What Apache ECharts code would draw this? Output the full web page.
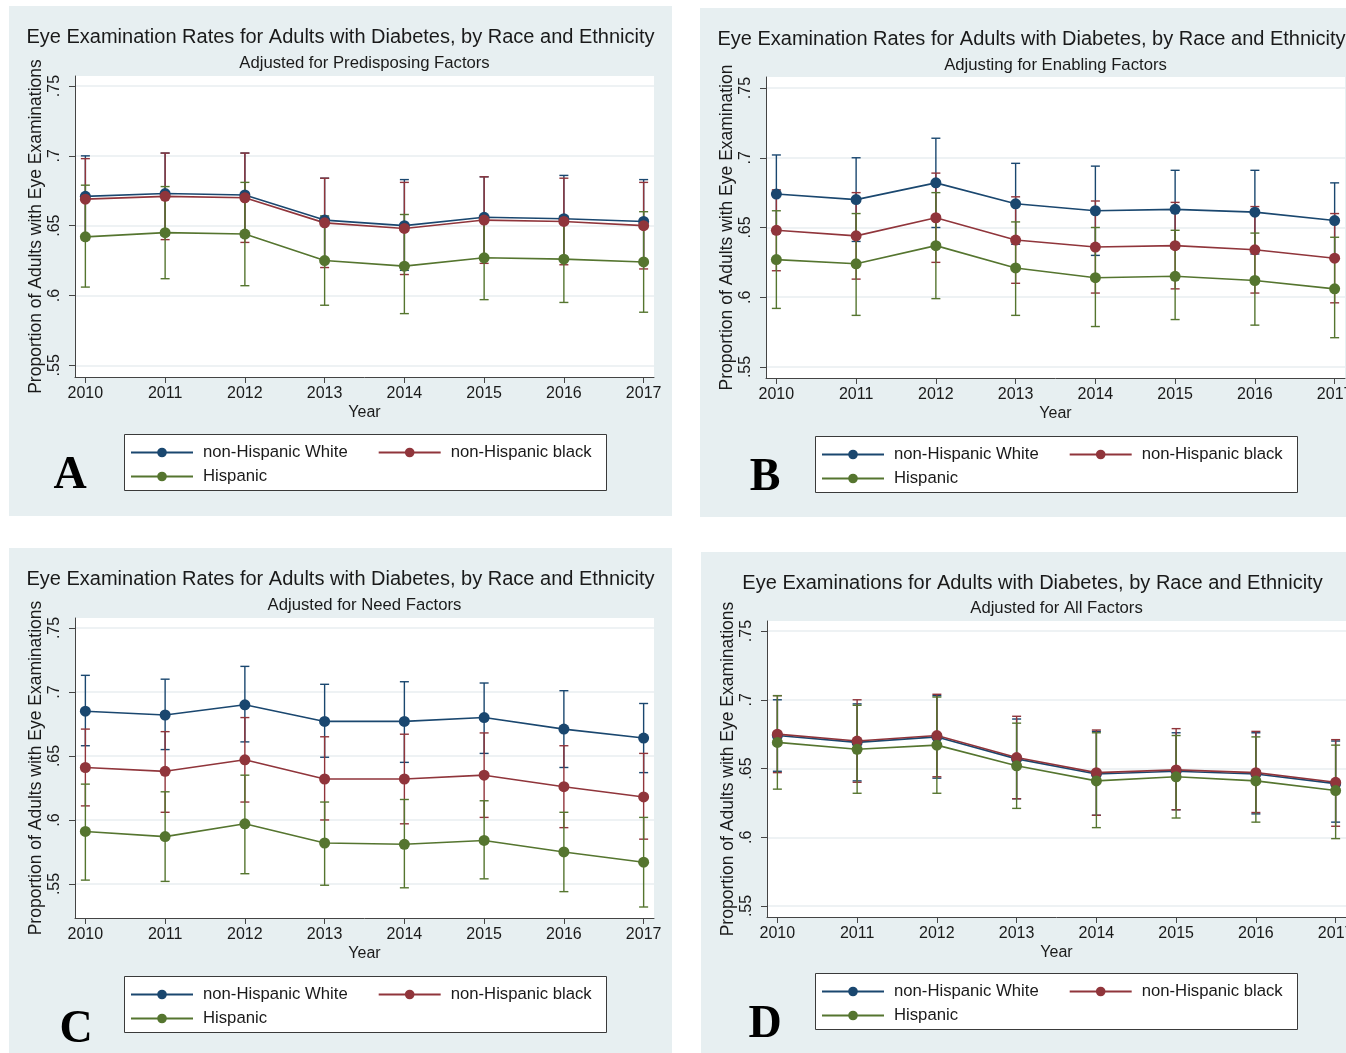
<!DOCTYPE html>
<html>
<head>
<meta charset="utf-8">
<script src="https://cdn.jsdelivr.net/npm/echarts@6/dist/echarts.min.js"></script>
<style>
  html, body { margin: 0; padding: 0; background: #ffffff; }
  #chart { width: 1346px; height: 1053px; }
</style>
</head>
<body>
<div id="chart"></div>
<script>
// ---- data -------------------------------------------------------------
const years = [2010, 2011, 2012, 2013, 2014, 2015, 2016, 2017];
const yTickValues = [0.55, 0.6, 0.65, 0.7, 0.75];
const yTickLabels = ['.55', '.6', '.65', '.7', '.75'];
const groupNames = ['non-Hispanic White', 'non-Hispanic black', 'Hispanic'];

// A: adjusted for predisposing factors
const predWhite   = [0.671, 0.673, 0.672, 0.654, 0.650, 0.656, 0.655, 0.653];
const predWhiteLo = [0.641, 0.643, 0.642, 0.624, 0.618, 0.627, 0.625, 0.623];
const predWhiteHi = [0.700, 0.702, 0.702, 0.684, 0.683, 0.685, 0.686, 0.683];
const predBlack   = [0.669, 0.671, 0.670, 0.652, 0.648, 0.654, 0.653, 0.650];
const predBlackLo = [0.640, 0.640, 0.638, 0.620, 0.615, 0.623, 0.622, 0.619];
const predBlackHi = [0.698, 0.702, 0.702, 0.684, 0.681, 0.685, 0.684, 0.681];
const predHisp    = [0.642, 0.645, 0.644, 0.625, 0.621, 0.627, 0.626, 0.624];
const predHispLo  = [0.606, 0.612, 0.607, 0.593, 0.587, 0.597, 0.595, 0.588];
const predHispHi  = [0.679, 0.678, 0.681, 0.657, 0.658, 0.657, 0.657, 0.660];

// B: adjusting for enabling factors
const enabWhite   = [0.674, 0.670, 0.682, 0.667, 0.662, 0.663, 0.661, 0.655];
const enabWhiteLo = [0.646, 0.640, 0.650, 0.638, 0.630, 0.635, 0.631, 0.628];
const enabWhiteHi = [0.702, 0.700, 0.714, 0.696, 0.694, 0.691, 0.691, 0.682];
const enabBlack   = [0.648, 0.644, 0.657, 0.641, 0.636, 0.637, 0.634, 0.628];
const enabBlackLo = [0.619, 0.613, 0.625, 0.610, 0.603, 0.606, 0.603, 0.596];
const enabBlackHi = [0.677, 0.675, 0.689, 0.672, 0.669, 0.668, 0.665, 0.660];
const enabHisp    = [0.627, 0.624, 0.637, 0.621, 0.614, 0.615, 0.612, 0.606];
const enabHispLo  = [0.592, 0.587, 0.599, 0.587, 0.579, 0.584, 0.580, 0.571];
const enabHispHi  = [0.662, 0.660, 0.675, 0.654, 0.650, 0.648, 0.646, 0.643];

// C: adjusted for need factors
const needWhite   = [0.685, 0.682, 0.690, 0.677, 0.677, 0.680, 0.671, 0.664];
const needWhiteLo = [0.658, 0.655, 0.661, 0.649, 0.645, 0.652, 0.641, 0.637];
const needWhiteHi = [0.713, 0.710, 0.720, 0.706, 0.708, 0.707, 0.701, 0.691];
const needBlack   = [0.641, 0.638, 0.647, 0.632, 0.632, 0.635, 0.626, 0.618];
const needBlackLo = [0.611, 0.606, 0.614, 0.600, 0.597, 0.602, 0.594, 0.585];
const needBlackHi = [0.671, 0.669, 0.680, 0.665, 0.667, 0.668, 0.658, 0.652];
const needHisp    = [0.591, 0.587, 0.597, 0.582, 0.581, 0.584, 0.575, 0.567];
const needHispLo  = [0.553, 0.552, 0.558, 0.549, 0.547, 0.554, 0.544, 0.532];
const needHispHi  = [0.628, 0.622, 0.635, 0.614, 0.616, 0.615, 0.606, 0.602];

// D: adjusted for all factors
const allWhite    = [0.674, 0.669, 0.673, 0.657, 0.646, 0.648, 0.646, 0.639];
const allWhiteLo  = [0.648, 0.641, 0.643, 0.628, 0.616, 0.620, 0.617, 0.611];
const allWhiteHi  = [0.700, 0.697, 0.703, 0.686, 0.677, 0.676, 0.676, 0.670];
const allBlack    = [0.675, 0.670, 0.674, 0.658, 0.647, 0.649, 0.647, 0.640];
const allBlackLo  = [0.647, 0.640, 0.644, 0.628, 0.616, 0.620, 0.618, 0.608];
const allBlackHi  = [0.703, 0.700, 0.704, 0.688, 0.678, 0.679, 0.677, 0.671];
const allHisp     = [0.669, 0.664, 0.667, 0.652, 0.641, 0.644, 0.641, 0.634];
const allHispLo   = [0.635, 0.632, 0.632, 0.621, 0.607, 0.614, 0.611, 0.599];
const allHispHi   = [0.703, 0.696, 0.702, 0.683, 0.676, 0.674, 0.673, 0.667];

// ---- styling ----------------------------------------------------------
const FONT = '"Liberation Sans", Arial, Helvetica, sans-serif';
const TEXT = '#1a1a1a';
const PANEL_BG = '#e7eff1';
const COLORS = ['#1a476f', '#90353b', '#55752f'];

// panel layout: background box, plot box, y range, legend box, letter
const panels = [
  {
    letter: 'A', title: 'Eye Examination Rates for Adults with Diabetes, by Race and Ethnicity',
    subtitle: 'Adjusted for Predisposing Factors', yName: 'Proportion of Adults with Eye Examinations',
    bg: [9, 6, 663, 510], plot: [75, 76, 579, 301], yRange: [0.5416, 0.7572],
    titleY: 37, subY: 63, legend: [124, 434], letterPos: [70, 476],
    series: [[predWhite, predWhiteLo, predWhiteHi], [predBlack, predBlackLo, predBlackHi], [predHisp, predHispLo, predHispHi]]
  },
  {
    letter: 'B', title: 'Eye Examination Rates for Adults with Diabetes, by Race and Ethnicity',
    subtitle: 'Adjusting for Enabling Factors', yName: 'Proportion of Adults with Eye Examination',
    bg: [700, 8, 663, 509], plot: [766, 77, 579, 301], yRange: [0.5421, 0.7579],
    titleY: 39, subY: 65, legend: [815, 436], letterPos: [765, 478],
    series: [[enabWhite, enabWhiteLo, enabWhiteHi], [enabBlack, enabBlackLo, enabBlackHi], [enabHisp, enabHispLo, enabHispHi]]
  },
  {
    letter: 'C', title: 'Eye Examination Rates for Adults with Diabetes, by Race and Ethnicity',
    subtitle: 'Adjusted for Need Factors', yName: 'Proportion of Adults with Eye Examinations',
    bg: [9, 548, 663, 505], plot: [75, 618, 579, 300], yRange: [0.5234, 0.7578],
    titleY: 579, subY: 605, legend: [124, 976], letterPos: [76, 1030],
    series: [[needWhite, needWhiteLo, needWhiteHi], [needBlack, needBlackLo, needBlackHi], [needHisp, needHispLo, needHispHi]]
  },
  {
    letter: 'D', title: 'Eye Examinations for Adults with Diabetes, by Race and Ethnicity',
    subtitle: 'Adjusted for All Factors', yName: 'Proportion of Adults with Eye Examinations',
    bg: [701, 552, 663, 501], plot: [767, 621, 579, 296], yRange: [0.542, 0.7573],
    titleY: 583, subY: 608, legend: [815, 973], letterPos: [765, 1025],
    series: [[allWhite, allWhiteLo, allWhiteHi], [allBlack, allBlackLo, allBlackHi], [allHisp, allHispLo, allHispHi]]
  }
];

function yLabel(v) {
  const i = yTickValues.findIndex(t => Math.abs(t - v) < 1e-6);
  return i >= 0 ? yTickLabels[i] : '';
}

// vertical confidence-interval bar with caps
function renderCI(params, api) {
  const x = api.value(0);
  const lo = api.coord([x, api.value(1)]);
  const hi = api.coord([x, api.value(2)]);
  const half = 4.5;
  const style = { stroke: api.visual('color'), lineWidth: 1.4, fill: null };
  return {
    type: 'group',
    children: [
      { type: 'line', shape: { x1: lo[0], y1: lo[1], x2: hi[0], y2: hi[1] }, style },
      { type: 'line', shape: { x1: lo[0] - half, y1: lo[1], x2: lo[0] + half, y2: lo[1] }, style },
      { type: 'line', shape: { x1: hi[0] - half, y1: hi[1], x2: hi[0] + half, y2: hi[1] }, style }
    ]
  };
}

const grids = [], xAxes = [], yAxes = [], series = [], legends = [], graphics = [];

panels.forEach((p, k) => {
  // panel background
  graphics.push({ type: 'rect', z: -10, shape: { x: p.bg[0], y: p.bg[1], width: p.bg[2], height: p.bg[3] },
                  style: { fill: PANEL_BG } });
  // titles
  const cx = p.bg[0] + p.bg[2] / 2;
  const plotCx = p.plot[0] + p.plot[2] / 2;
  graphics.push({ type: 'text', z: 5, x: cx, y: p.titleY,
    style: { text: p.title, font: '20px ' + FONT, fill: TEXT, align: 'center', verticalAlign: 'middle' } });
  graphics.push({ type: 'text', z: 5, x: plotCx, y: p.subY,
    style: { text: p.subtitle, font: '16.7px ' + FONT, fill: TEXT, align: 'center', verticalAlign: 'middle' } });
  // legend box
  graphics.push({ type: 'rect', z: 1, shape: { x: p.legend[0] + 0.5, y: p.legend[1] + 0.5, width: 482, height: 56 },
                  style: { fill: '#ffffff', stroke: '#3a3a3a', lineWidth: 1 } });
  // panel letter
  graphics.push({ type: 'text', z: 5, x: p.letterPos[0], y: p.letterPos[1],
    style: { text: p.letter, font: 'bold 46px "Liberation Serif", "Times New Roman", serif', fill: '#000',
             align: 'center', verticalAlign: 'middle' } });

  grids.push({ left: p.plot[0], top: p.plot[1], width: p.plot[2], height: p.plot[3],
               outerBoundsMode: 'none', containLabel: false,
               show: true, backgroundColor: '#ffffff', borderWidth: 0 });

  xAxes.push({
    gridIndex: k, type: 'value', min: 2009.87, max: 2017.13,
    name: 'Year', nameLocation: 'middle', nameGap: 28,
    nameTextStyle: { fontSize: 16, color: TEXT, fontFamily: FONT },
    axisLine: { show: true, onZero: false, lineStyle: { color: '#444', width: 1 } },
    axisTick: { show: true, length: 6, customValues: years, lineStyle: { color: '#444' } },
    axisLabel: { customValues: years, margin: 9, fontSize: 16, color: TEXT, fontFamily: FONT,
                 hideOverlap: false, showMaxLabel: true, formatter: v => String(Math.round(v)) },
    splitLine: { show: false }
  });

  yAxes.push({
    gridIndex: k, type: 'value', min: p.yRange[0], max: p.yRange[1],
    name: p.yName, nameLocation: 'middle', nameGap: 30, nameRotate: 90,
    nameTextStyle: { fontSize: 17.5, color: TEXT, fontFamily: FONT },
    axisLine: { show: true, onZero: false, lineStyle: { color: '#444', width: 1 } },
    axisTick: { show: true, length: 6, customValues: yTickValues, lineStyle: { color: '#444' } },
    axisLabel: { customValues: yTickValues, rotate: 90, margin: 12, fontSize: 16, color: TEXT, fontFamily: FONT,
                 formatter: yLabel },
    splitLine: { show: true, lineStyle: { color: '#e8eef1', width: 1.5 } }
  });

  // error bars first, then connected lines on top
  p.series.forEach((s, j) => {
    series.push({
      type: 'custom', name: 'ci-' + p.letter + j, xAxisIndex: k, yAxisIndex: k,
      itemStyle: { color: COLORS[j] }, z: 2, silent: true,
      encode: { x: 0, y: [1, 2] },
      data: years.map((yr, i) => [yr, s[1][i], s[2][i]]),
      renderItem: renderCI
    });
  });
  p.series.forEach((s, j) => {
    series.push({
      type: 'line', name: groupNames[j], xAxisIndex: k, yAxisIndex: k,
      data: years.map((yr, i) => [yr, s[0][i]]),
      symbol: 'circle', symbolSize: 11, z: 3,
      itemStyle: { color: COLORS[j] },
      lineStyle: { color: COLORS[j], width: 1.6 },
      emphasis: { disabled: true }, animation: false
    });
  });

  // two legend rows inside the box
  const lx = p.legend[0] + 6, ly = p.legend[1];
  const common = { orient: 'horizontal', itemWidth: 62, itemHeight: 12, itemGap: 30, padding: 0,
                   selectedMode: false, z: 4,
                   textStyle: { fontSize: 16.7, color: TEXT, fontFamily: FONT, padding: [0, 0, 0, 5] } };
  legends.push(Object.assign({ data: [groupNames[0], groupNames[1]], left: lx, top: ly + 10 }, common));
  legends.push(Object.assign({ data: [groupNames[2]], left: lx, top: ly + 34 }, common));
});

const chart = echarts.init(document.getElementById('chart'), null, { renderer: 'canvas' });
chart.setOption({
  backgroundColor: '#ffffff',
  animation: false,
  grid: grids,
  xAxis: xAxes,
  yAxis: yAxes,
  legend: legends,
  graphic: graphics,
  series: series
});
</script>
</body>
</html>
